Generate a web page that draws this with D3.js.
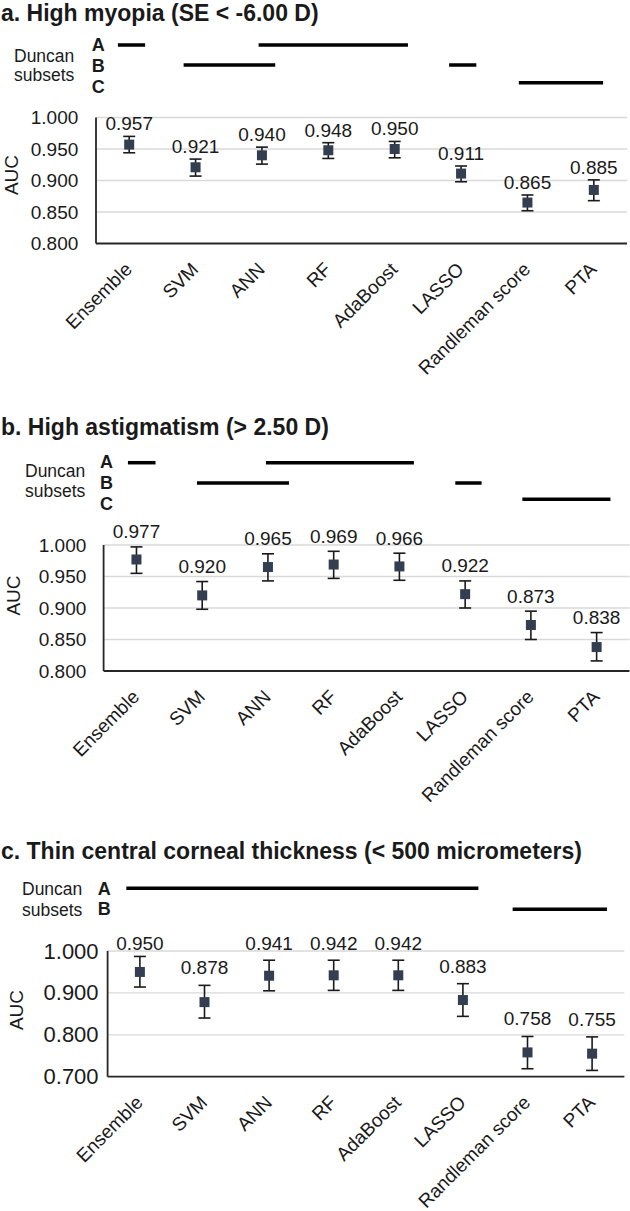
<!DOCTYPE html>
<html>
<head>
<meta charset="utf-8">
<script src="https://cdn.jsdelivr.net/npm/d3@7/dist/d3.min.js"></script>
<style>
  html, body { margin: 0; padding: 0; background: #fff; }
  svg { display: block; }
  text { font-family: "Liberation Sans", Arial, sans-serif; fill: #1a1a1a; }
</style>
</head>
<body>
<svg id="chart" width="630" height="1211"></svg>
<script>
// ---------------- data ----------------
const categories = ["Ensemble", "SVM", "ANN", "RF", "AdaBoost", "LASSO", "Randleman score", "PTA"];

const titleA = "a. High myopia (SE < -6.00 D)";
const titleB = "b. High astigmatism (> 2.50 D)";
const titleC = "c. Thin central corneal thickness (< 500 micrometers)";

// AUC point estimates and 95% CI bounds
const aucMyopia  = [0.957, 0.921, 0.940, 0.948, 0.950, 0.911, 0.865, 0.885];
const lowMyopia  = [0.944, 0.907, 0.926, 0.935, 0.936, 0.898, 0.852, 0.868];
const highMyopia = [0.970, 0.934, 0.953, 0.960, 0.962, 0.923, 0.877, 0.901];

const aucAstig  = [0.977, 0.920, 0.965, 0.969, 0.966, 0.922, 0.873, 0.838];
const lowAstig  = [0.955, 0.898, 0.943, 0.947, 0.944, 0.900, 0.850, 0.816];
const highAstig = [0.997, 0.942, 0.986, 0.990, 0.987, 0.943, 0.895, 0.861];

const aucCCT  = [0.950, 0.878, 0.941, 0.942, 0.942, 0.883, 0.758, 0.755];
const lowCCT  = [0.914, 0.840, 0.905, 0.906, 0.906, 0.844, 0.719, 0.715];
const highCCT = [0.987, 0.918, 0.978, 0.978, 0.978, 0.922, 0.796, 0.795];

const ticksAB = [0.800, 0.850, 0.900, 0.950, 1.000];
const ticksC  = [0.700, 0.800, 0.900, 1.000];
const domainAB = [0.800, 1.000];
const domainC  = [0.700, 1.000];

const subsetsABC = ["A", "B", "C"];
const subsetsAB  = ["A", "B"];

// Duncan subset spans, in category-index units (0 = Ensemble ... 7 = PTA)
const duncanMyopia = [
  { subset: "A", from: -0.17, to: 0.24 },
  { subset: "A", from: 1.95, to: 4.20 },
  { subset: "B", from: 0.82, to: 2.20 },
  { subset: "B", from: 4.82, to: 5.23 },
  { subset: "C", from: 5.87, to: 7.14 }
];
const duncanAstig = [
  { subset: "A", from: -0.13, to: 0.29 },
  { subset: "A", from: 1.97, to: 4.22 },
  { subset: "B", from: 0.92, to: 2.32 },
  { subset: "B", from: 4.85, to: 5.25 },
  { subset: "C", from: 5.87, to: 7.21 }
];
const duncanCCT = [
  { subset: "A", from: -0.21, to: 5.24 },
  { subset: "B", from: 5.77, to: 7.23 }
];

// ---------------- layout (styles / positions) ----------------
const panels = [
  {
    title: titleA, auc: aucMyopia, lo: lowMyopia, hi: highMyopia,
    ticks: ticksAB, domain: domainAB, subsets: subsetsABC, duncan: duncanMyopia,
    L: { titleY: 20.7, duncanX: 14, duncanY: [61.7, 81], letterX: 91.7, letterY: [50.7, 72.3, 93.3],
         lineY: { A: 45, B: 65, C: 82.7 }, axisX: 96, right: 627, yTop: 117.5, yBot: 243.5,
         tickPad: 17.7, tickSize: 19, aucX: 18, aucY: 175, labelOff: 6, labelMin: -1e9 }
  },
  {
    title: titleB, auc: aucAstig, lo: lowAstig, hi: highAstig,
    ticks: ticksAB, domain: domainAB, subsets: subsetsABC, duncan: duncanAstig,
    L: { titleY: 435, duncanX: 25, duncanY: [476.7, 497.3], letterX: 100, letterY: [468.3, 488.8, 510],
         lineY: { A: 462.7, B: 483, C: 499.3 }, axisX: 103.6, right: 629.5, yTop: 545, yBot: 671,
         tickPad: 17.3, tickSize: 19, aucX: 20, aucY: 595.5, labelOff: 8.5, labelMin: -1e9 }
  },
  {
    title: titleC, auc: aucCCT, lo: lowCCT, hi: highCCT,
    ticks: ticksC, domain: domainC, subsets: subsetsAB, duncan: duncanCCT,
    L: { titleY: 858.5, duncanX: 22, duncanY: [895, 916], letterX: 97.7, letterY: [895, 915],
         lineY: { A: 888.3, B: 909.3 }, axisX: 107.6, right: 624.4, yTop: 951, yBot: 1076.7,
         tickPad: 9, tickSize: 22, aucX: 23, aucY: 1010, labelOff: 11, labelMin: 950 }
  }
];

const svg = d3.select("#chart");
svg.append("rect").attr("width", 630).attr("height", 1211).attr("fill", "#fff");

const markerColor = "#333f50";

panels.forEach(p => {
  const L = p.L;
  const g = svg.append("g");

  // title
  g.append("text")
    .attr("x", 1).attr("y", L.titleY)
    .attr("font-size", 23).attr("font-weight", "bold")
    .text(p.title);

  // Duncan label
  g.append("text").attr("x", L.duncanX).attr("y", L.duncanY[0]).attr("font-size", 17.5).text("Duncan");
  g.append("text").attr("x", L.duncanX).attr("y", L.duncanY[1]).attr("font-size", 17.5).text("subsets");

  g.selectAll("text.letter").data(p.subsets).join("text")
    .attr("class", "letter")
    .attr("x", L.letterX).attr("y", (d, i) => L.letterY[i])
    .attr("font-size", 18).attr("font-weight", "bold")
    .text(d => d);

  // scales
  const x = d3.scaleBand().domain(categories).range([L.axisX, L.right]);
  const cx = d => x(d) + x.bandwidth() / 2;
  const xu = d3.scaleLinear().domain([0, categories.length - 1])
    .range([cx(categories[0]), cx(categories[categories.length - 1])]);
  const y = d3.scaleLinear().domain(p.domain).range([L.yBot, L.yTop]);

  // Duncan subset lines
  g.selectAll("line.duncan").data(p.duncan).join("line")
    .attr("class", "duncan")
    .attr("x1", d => xu(d.from)).attr("x2", d => xu(d.to))
    .attr("y1", d => L.lineY[d.subset]).attr("y2", d => L.lineY[d.subset])
    .attr("stroke", "#000").attr("stroke-width", 3.5);

  // gridlines
  g.selectAll("line.grid").data(p.ticks.filter(t => t > p.domain[0])).join("line")
    .attr("class", "grid")
    .attr("x1", L.axisX).attr("x2", L.right)
    .attr("y1", d => y(d)).attr("y2", d => y(d))
    .attr("stroke", "#d9d9d9").attr("stroke-width", 1.3);

  // y axis labels
  const yAxis = d3.axisLeft(y).tickValues(p.ticks).tickFormat(d3.format(".3f"))
    .tickSize(0).tickPadding(L.tickPad);
  const ya = g.append("g").attr("transform", `translate(${L.axisX},0)`).call(yAxis);
  ya.select(".domain").remove();
  ya.selectAll("text")
    .attr("font-size", L.tickSize)
    .attr("font-family", '"Liberation Sans", Arial, sans-serif')
    .attr("fill", "#1a1a1a");

  // axis lines
  g.append("line").attr("x1", L.axisX).attr("x2", L.axisX)
    .attr("y1", y(p.domain[1])).attr("y2", y(p.domain[0]))
    .attr("stroke", "#262626").attr("stroke-width", 1.8);
  g.append("line").attr("x1", L.axisX).attr("x2", L.right)
    .attr("y1", y(p.domain[0])).attr("y2", y(p.domain[0]))
    .attr("stroke", "#262626").attr("stroke-width", 1.8);

  // AUC title
  g.append("text")
    .attr("transform", `translate(${L.aucX},${L.aucY}) rotate(-90)`)
    .attr("text-anchor", "middle").attr("font-size", 19)
    .text("AUC");

  // x labels
  g.selectAll("text.xlab").data(categories).join("text")
    .attr("class", "xlab")
    .attr("text-anchor", "end")
    .attr("font-size", 19)
    .attr("transform", d => `translate(${cx(d) + 4},${y(p.domain[0]) + 27}) rotate(-45)`)
    .text(d => d);

  const rows = categories.map((c, i) => ({ c, v: p.auc[i], lo: p.lo[i], hi: p.hi[i] }));

  // error bars
  const eb = g.selectAll("g.eb").data(rows).join("g").attr("class", "eb");
  eb.append("line")
    .attr("x1", d => cx(d.c)).attr("x2", d => cx(d.c))
    .attr("y1", d => y(d.lo)).attr("y2", d => y(d.hi))
    .attr("stroke", "#1a1a1a").attr("stroke-width", 1.6);
  eb.append("line")
    .attr("x1", d => cx(d.c) - 6).attr("x2", d => cx(d.c) + 6)
    .attr("y1", d => y(d.lo)).attr("y2", d => y(d.lo))
    .attr("stroke", "#1a1a1a").attr("stroke-width", 1.6);
  eb.append("line")
    .attr("x1", d => cx(d.c) - 6).attr("x2", d => cx(d.c) + 6)
    .attr("y1", d => y(d.hi)).attr("y2", d => y(d.hi))
    .attr("stroke", "#1a1a1a").attr("stroke-width", 1.6);

  // markers
  g.selectAll("rect.mk").data(rows).join("rect")
    .attr("class", "mk")
    .attr("x", d => cx(d.c) - 5).attr("y", d => y(d.v) - 5)
    .attr("width", 10).attr("height", 10)
    .attr("fill", markerColor);

  // value labels
  g.selectAll("text.val").data(rows).join("text")
    .attr("class", "val")
    .attr("text-anchor", "middle").attr("font-size", 19)
    .attr("x", d => cx(d.c))
    .attr("y", d => Math.max(y(d.hi) - L.labelOff, L.labelMin))
    .text(d => d3.format(".3f")(d.v));
});
</script>
</body>
</html>
